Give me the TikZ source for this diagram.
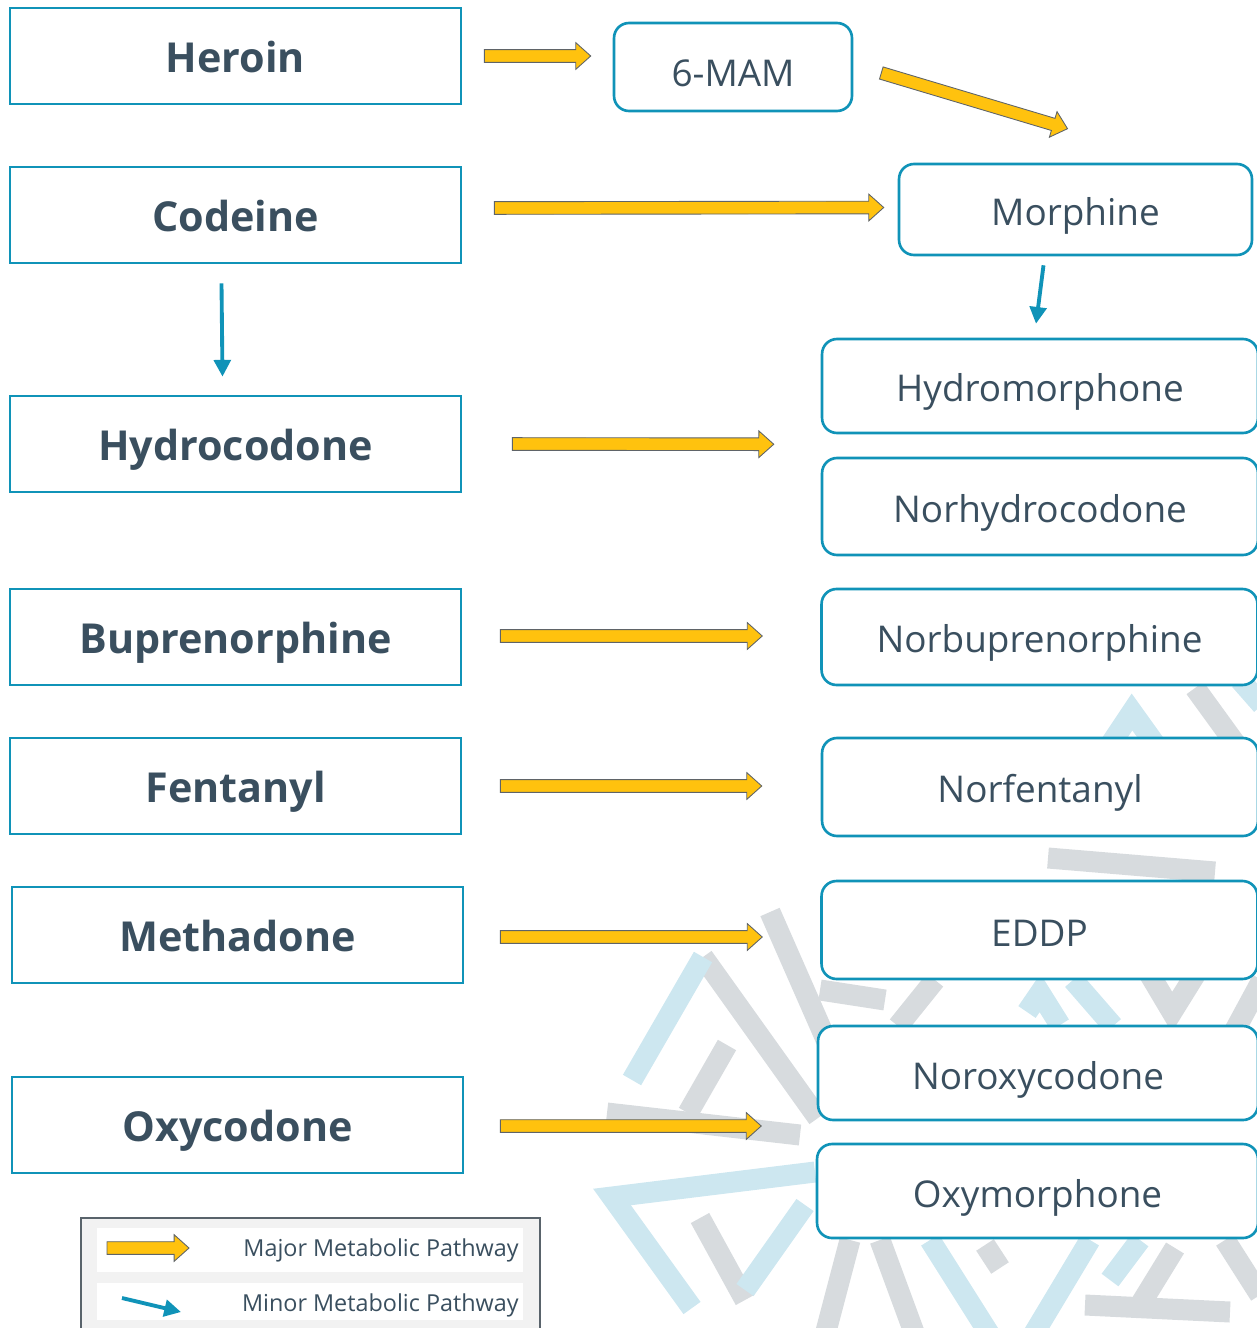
\documentclass[tikz,border=0pt]{standalone}
\usepackage{fontspec}
\setmainfont{Open Sans}
\usetikzlibrary{arrows.meta,calc}
\definecolor{boxblue}{HTML}{1093B8}
\definecolor{ink}{HTML}{3A4F5F}
\definecolor{gold}{HTML}{FFC20E}
\definecolor{goldedge}{HTML}{5F6468}
\definecolor{wmgray}{HTML}{D7DBDE}
\definecolor{wmblue}{HTML}{CDE7F0}
\definecolor{legendfill}{HTML}{F2F2F2}
\definecolor{legendedge}{HTML}{59636B}

\begin{document}
\begin{tikzpicture}[x=0.02cm, y=-0.02cm,
  drug/.style = {draw=boxblue, line width=1.6pt, fill=white, inner sep=0pt,
    minimum width=9.02cm, minimum height=1.92cm, text=ink,
    text height=19.3pt, text depth=0pt,
    font=\fontsize{23.5}{28}\selectfont\bfseries},
  product/.style = {draw=boxblue, line width=1.5pt, fill=white, inner sep=0pt,
    rounded corners=0.3cm, minimum width=8.72cm, minimum height=1.92cm, text=ink,
    text height=18.2pt, text depth=0pt,
    font=\fontsize{21}{25}\selectfont},
  major/.style = {fill=gold, draw=goldedge, line width=0.5pt,
    to path={let \p1=(\tikztostart), \p2=(\tikztotarget),
      \n1={atan2(\y2-\y1,\x2-\x1)} in
      ($(\p1)+(\n1-90:3.6pt)$) -- ($(\p2)+(\n1+180:8.5pt)+(\n1-90:3.6pt)$)
      -- ($(\p2)+(\n1+180:8.5pt)+(\n1-90:7.6pt)$) -- (\p2)
      -- ($(\p2)+(\n1+180:8.5pt)+(\n1+90:7.6pt)$)
      -- ($(\p2)+(\n1+180:8.5pt)+(\n1+90:3.6pt)$)
      -- ($(\p1)+(\n1+90:3.6pt)$) -- cycle}},
  minor/.style = {draw=boxblue, line width=2.2pt, -{Triangle[length=9.5pt, width=9.5pt]}},
  wmg/.style = {draw=wmgray, line width=0.42cm},
  wmb/.style = {draw=wmblue, line width=0.42cm},
  legtext/.style = {anchor=east, inner sep=0pt, text=ink, font=\fontsize{13.3}{16}\selectfont}]
\useasboundingbox (0,0) rectangle (1257,1328);

% watermark behind the right column
\draw[wmg] (770,912) -- (835,1060);
\draw[wmg] (703,957) -- (818,1118);
\draw[wmg] (727,1045) -- (688,1113);
\draw[wmg] (607,1113) -- (800,1135);
\draw[wmg] (700,1218) -- (745,1300);
\draw[wmg] (1195,688) -- (1240,750);
\draw[wmg] (1048,858) -- (1215,872);
\draw[wmg] (820,990) -- (885,1000);
\draw[wmg] (935,980) -- (898,1026);
\draw[wmg] (1150,975) -- (1172,1012) -- (1195,975);
\draw[wmg] (1262,980) -- (1235,1030);
\draw[wmg] (850,1240) -- (825,1335);
\draw[wmg] (880,1240) -- (915,1335);
\draw[wmg] (985,1245) -- (1000,1268);
\draw[wmg] (1175,1248) -- (1140,1305);
\draw[wmg] (1085,1305) -- (1230,1312);
\draw[wmg] (1225,1240) -- (1260,1295);
\draw[wmb] (632,1080) -- (703,957);
\draw[wmb] (815,1172) -- (612,1197) -- (692,1308);
\draw[wmb] (745,1290) -- (805,1205);
\draw[wmb] (1100,760) -- (1132,712) -- (1170,765);
\draw[wmb] (1240,680) -- (1262,705);
\draw[wmb] (1027,1012) -- (1040,993) -- (1060,1025);
\draw[wmb] (1073,980) -- (1113,1026);
\draw[wmb] (930,1240) -- (990,1335);
\draw[wmb] (1090,1240) -- (1033,1335);
\draw[wmb] (1140,1240) -- (1110,1280);

\node[drug] (heroin) at (235.5,56) {Heroin};
\node[drug] (codeine) at (235.5,215) {Codeine};
\node[drug] (hydrocodone) at (235.5,444) {Hydrocodone};
\node[drug] (bup) at (235.5,637) {Buprenorphine};
\node[drug] (fentanyl) at (235.5,786) {Fentanyl};
\node[drug] (methadone) at (237.5,935) {Methadone};
\node[drug] (oxycodone) at (237.5,1125) {Oxycodone};

\node[product, minimum width=4.76cm, minimum height=1.76cm, text height=21.7pt] (mam) at (733,67) {6-MAM};
\node[product, minimum width=7.06cm, minimum height=1.82cm] (morphine) at (1075.5,209.5) {Morphine};
\node[product, minimum height=1.88cm] (hydromorph) at (1040,386) {Hydromorphone};
\node[product, minimum height=1.94cm] (norhydro) at (1040,506.5) {Norhydrocodone};
\node[product] (norbup) at (1039.5,637) {Norbuprenorphine};
\node[product, minimum height=1.96cm] (norfent) at (1040,787) {Norfentanyl};
\node[product, minimum height=1.96cm] (eddp) at (1039.5,930) {EDDP};
\node[product, minimum width=8.8cm, minimum height=1.88cm] (noroxy) at (1038,1073) {Noroxycodone};
\node[product, minimum width=8.82cm, minimum height=1.88cm] (oxymorph) at (1037.5,1191) {Oxymorphone};

\draw[major] ($(heroin.east)+(22,0)$) to ($(mam.west)+(-22,-11)$);
\draw[major] ($(mam.east)+(28,6)$) to ($(morphine.north)+(-8,-34)$);
\draw[major] ($(codeine.east)+(32,-7)$) to ($(morphine.west)+(-14,-2)$);
\draw[major] ($(hydrocodone.east)+(50,0)$) to ($(hydromorph.west)!0.5!(norhydro.west)+(-47,-2)$);
\draw[major] ($(bup.east)+(38,-1)$) to ($(norbup.west)+(-58,-1)$);
\draw[major] ($(fentanyl.east)+(38,0)$) to ($(norfent.west)+(-59,-1)$);
\draw[major] ($(methadone.east)+(36,2)$) to ($(eddp.west)+(-58,7)$);
\draw[major] ($(oxycodone.east)+(36,1)$) to ($(noroxy.west)!0.5!(oxymorph.west)+(-55,-6)$);
\draw[minor] ($(codeine.south)+(-14,19)$) -- ($(hydrocodone.north)+(-13,-18)$);
\draw[minor] ($(morphine.south)+(-32,9)$) -- ($(hydromorph.north)+(-4,-14)$);

% legend
\node[draw=legendedge, line width=1.2pt, fill=legendfill, minimum width=9.18cm,
  minimum height=2.44cm, inner sep=0pt] (legend) at (310.5,1279) {};
\node[fill=white, minimum width=8.52cm, minimum height=0.88cm, inner sep=0pt] (rowmajor) at (310,1250) {};
\node[fill=white, minimum width=8.52cm, minimum height=0.74cm, inner sep=0pt] (rowminor) at (310,1301.5) {};
\coordinate (majA) at (107,1248);
\coordinate (majB) at (189,1248);
\coordinate (minA) at (122,1298);
\coordinate (minB) at (181,1312);
\draw[major] (majA) to (majB);
\draw[minor] (minA) -- (minB);
\node[legtext] (majtext) at (519,1250) {Major Metabolic Pathway};
\node[legtext] (mintext) at (519,1305) {Minor Metabolic Pathway};
\end{tikzpicture}
\end{document}
